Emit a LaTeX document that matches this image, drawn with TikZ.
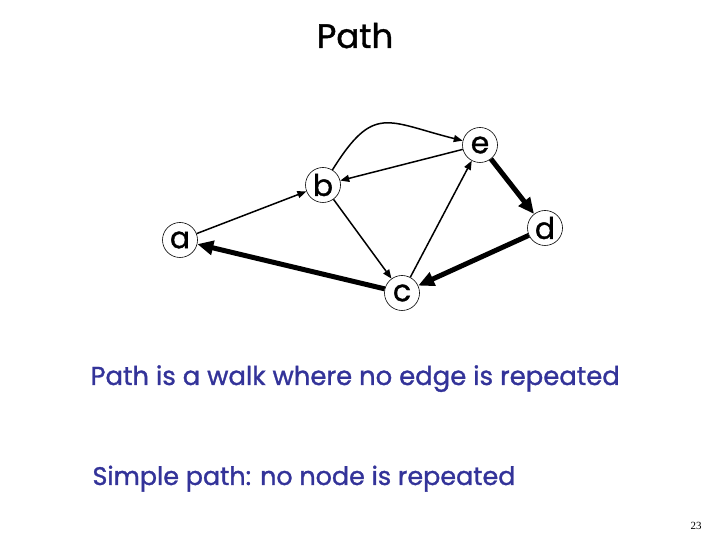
\documentclass[tikz,border=0pt]{standalone}
\usepackage{fontspec}
\setmainfont{Poppins}[FakeBold=1.2,BoldFont=Poppins]
\newfontfamily\numfont{Liberation Serif}
\usetikzlibrary{arrows.meta}
\definecolor{txtblue}{RGB}{51,51,153}
\begin{document}
\begin{tikzpicture}[x=1bp,y=1bp,
  vtx/.style={circle,draw,line width=0.6bp,minimum size=35bp,inner sep=0pt,font=\bfseries\fontsize{30}{30}\selectfont},
  thin/.style={line width=1.5bp,-{Triangle[length=9bp,width=7bp]}},
  thick/.style={line width=5bp,-{Triangle[length=16bp,width=14bp]}},
  txt/.style={anchor=base west,text=txtblue,font=\bfseries\fontsize{26}{30}\selectfont}]
\useasboundingbox (0,0) rectangle (720,540);
\node[anchor=base,font=\bfseries\fontsize{34}{38}\selectfont] (title) at (355,492) {Path};
\node[vtx] (a) at (180,300) {a};
\node[vtx] (b) at (323,355) {b};
\node[vtx] (e) at (480,395) {e};
\node[vtx] (d) at (545,312) {d};
\node[vtx] (c) at (402,247) {c};
\draw[thin] (a) -- (b);
\draw[thin] (b) -- (c);
\draw[thin] (c) -- (e);
\draw[thin] (e) -- (b);
\draw[thin] (b) to[out=58,in=166,looseness=1.5] (e);
\draw[thick] (e) -- (d);
\draw[thick] (d) -- (c);
\draw[thick] (c) -- (a);
\node[txt] (t1) at (87,155) {Path is a walk where no edge is repeated};
\node[txt,font=\bfseries\fontsize{25.5}{30}\selectfont] (t2) at (89,55) {Simple path: no node is repeated};
\node[anchor=base,font=\numfont\fontsize{11}{12}\selectfont] (pg) at (696,10) {23};
\end{tikzpicture}
\end{document}
